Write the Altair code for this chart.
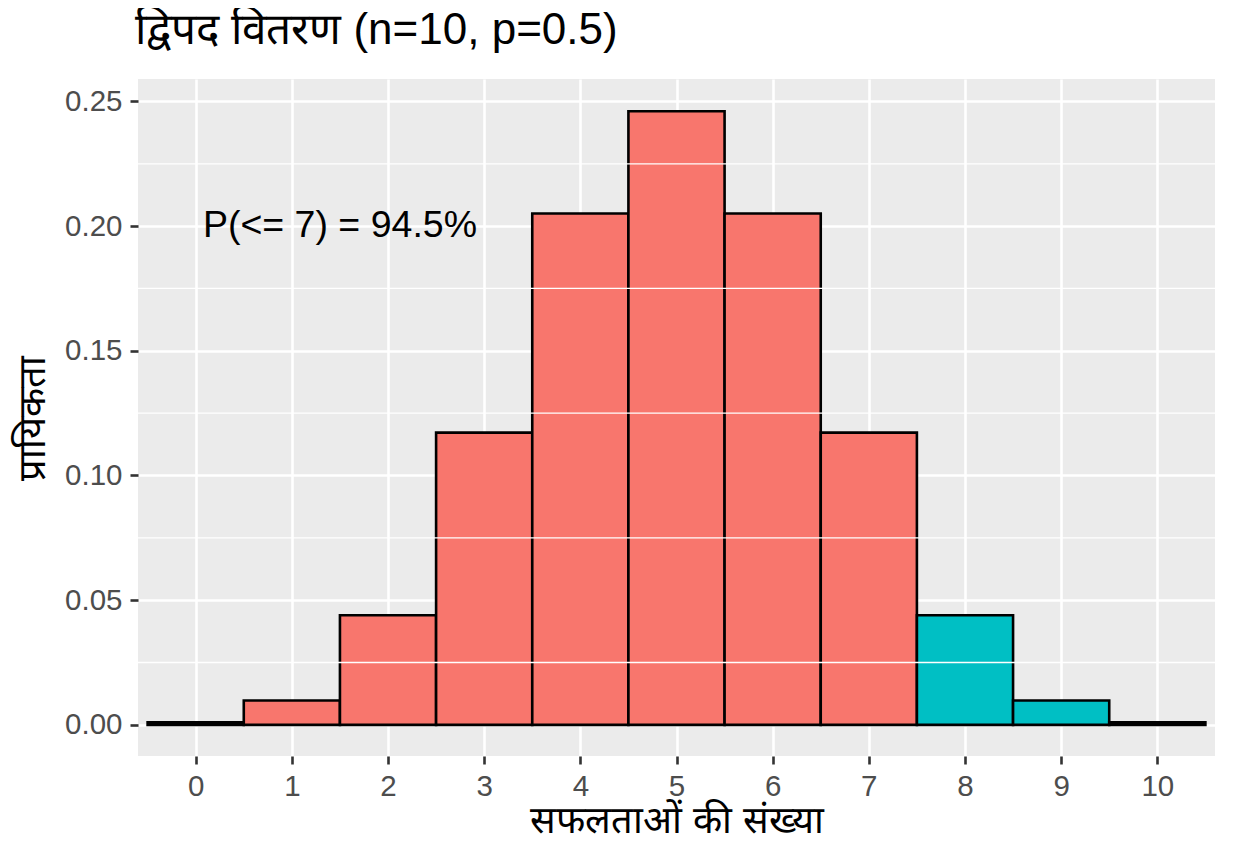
import altair as alt
import pandas as pd

# binomial(10, 0.5) probabilities
successes = [0, 1, 2, 3, 4, 5, 6, 7, 8, 9, 10]
probability = [0.000977, 0.009766, 0.043945, 0.117188, 0.205078, 0.246094,
               0.205078, 0.117188, 0.043945, 0.009766, 0.000977]
group = ["<= 7"] * 8 + ["> 7"] * 3

x_ticks = list(range(0, 11))
y_major = [0.0, 0.05, 0.10, 0.15, 0.20, 0.25]
y_minor = [0.025, 0.075, 0.125, 0.175, 0.225]

note_x = [1.5]
note_y = [0.2]
note_text = ["P(<= 7) = 94.5%"]

FONT = "Liberation Sans"

df = pd.DataFrame({"k": successes, "prob": probability, "group": group})
notes = pd.DataFrame({"x": note_x, "y": note_y, "label": note_text})
minor_df = pd.DataFrame({"y": y_minor})

x_scale = alt.Scale(domain=[-0.6, 10.6], nice=False, zero=False)
y_scale = alt.Scale(domain=[-0.0125, 0.259], nice=False, zero=False)

bars = (
    alt.Chart(df)
    .transform_calculate(lo="datum.k - 0.5", hi="datum.k + 0.5", base="0")
    .mark_rect(stroke="black", strokeWidth=2.6)
    .encode(
        x=alt.X(
            "lo:Q",
            scale=x_scale,
            title="सफलताओं की संख्या",
            axis=alt.Axis(values=x_ticks, format="d", labelFlush=False),
        ),
        x2="hi:Q",
        y=alt.Y(
            "prob:Q",
            scale=y_scale,
            title="प्रायिकता",
            axis=alt.Axis(values=y_major, format=".2f"),
        ),
        y2="base:Q",
        color=alt.Color(
            "group:N",
            scale=alt.Scale(domain=["<= 7", "> 7"], range=["#F8766D", "#00BFC4"]),
            legend=None,
        ),
    )
)

# thinner minor grid lines between the major ones
minor = (
    alt.Chart(minor_df)
    .mark_rule(color="white", strokeWidth=1.3)
    .encode(y=alt.Y("y:Q", scale=y_scale))
)

note = (
    alt.Chart(notes)
    .mark_text(font=FONT, fontSize=37.5, color="black", align="center", baseline="middle")
    .encode(x=alt.X("x:Q", scale=x_scale), y=alt.Y("y:Q", scale=y_scale), text="label:N")
)

chart = (
    alt.layer(bars, minor, note)
    .properties(
        width=1077,
        height=677,
        autosize=alt.AutoSizeParams(type="none"),
        padding={"left": 130, "top": 71, "right": 11, "bottom": 90},
        title=alt.Title(
            "द्विपद वितरण (n=10, p=0.5)",
            anchor="start",
            frame="group",
            font=FONT,
            fontSize=44,
            fontWeight="normal",
            color="black",
            baseline="alphabetic",
            offset=0,
            dx=-3,
            dy=9,
        ),
    )
    .configure_view(fill="#EBEBEB", stroke=None)
    .configure_axis(
        domain=False,
        grid=True,
        gridColor="white",
        gridWidth=2.6,
        tickColor="#333333",
        tickWidth=2.6,
        tickSize=8,
        labelFont=FONT,
        labelFontSize=29.5,
        labelColor="#4D4D4D",
        labelPadding=8,
        titleFont=FONT,
        titleFontSize=38,
        titleFontWeight="normal",
        titleColor="black",
    )
    .configure_axisX(titlePadding=2)
    .configure_axisY(titlePadding=12)
)

chart.save("out.html", embed_options={"renderer": "svg", "actions": False})
